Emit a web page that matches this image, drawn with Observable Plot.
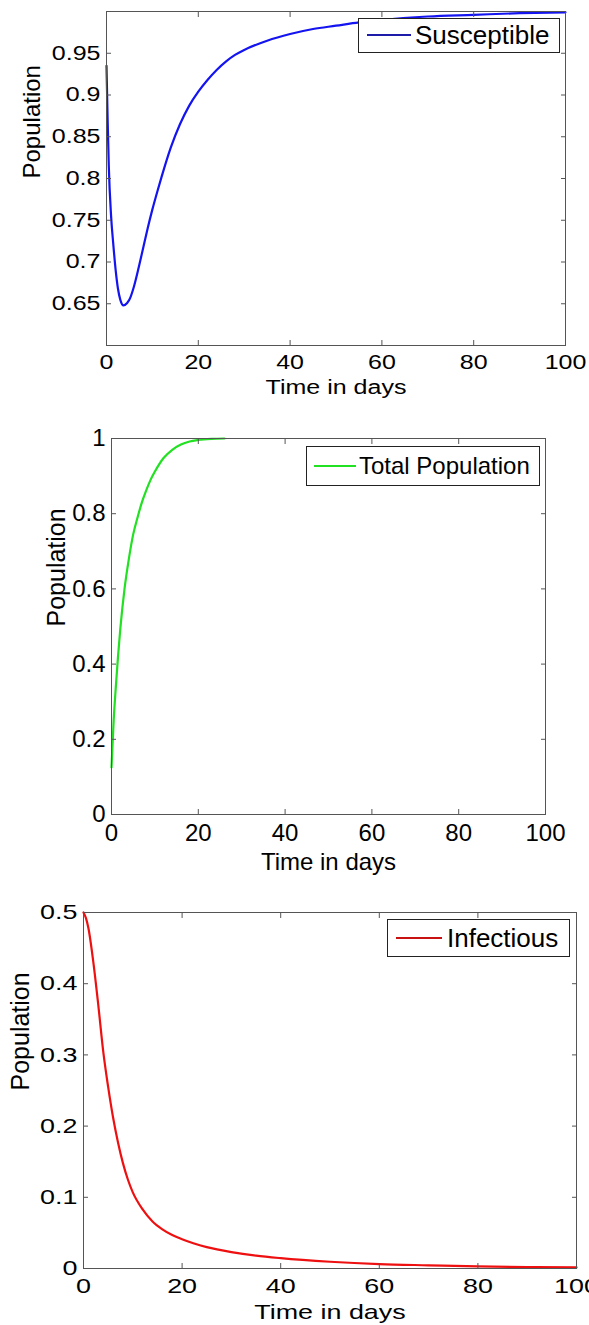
<!DOCTYPE html>
<html><head><meta charset="utf-8">
<script src="https://cdn.jsdelivr.net/npm/d3@7"></script>
<script src="https://cdn.jsdelivr.net/npm/@observablehq/plot@0.6"></script>
<style>
body{margin:0;background:#fff;}
#wrap{position:relative;width:589px;height:1325px;background:#fff;overflow:hidden;font-family:"Liberation Sans",Arial,sans-serif;}
.panel{position:absolute;left:0;}
.legend{position:absolute;border:1px solid #222;background:#fff;box-sizing:border-box;}
.sw{position:absolute;height:0;border-top:2px solid;}
.lt{position:absolute;white-space:nowrap;line-height:1;transform:translateY(-50%);color:#000;}
</style></head><body><div id="wrap"></div>
<script>
// ---- data ----
const xTicks = [0, 20, 40, 60, 80, 100];

const days1 = [0, 0.25, 0.5, 1, 1.5, 2, 2.5, 3, 3.7, 4.5, 5, 6, 7, 8, 9, 10, 11, 12, 14, 16, 18, 20, 22, 24, 26, 28, 30, 35, 40, 45, 50, 55, 60, 70, 80, 90, 100];
const susceptible = [0.935, 0.87, 0.815, 0.755, 0.72, 0.69, 0.668, 0.655, 0.648, 0.651, 0.655, 0.671, 0.693, 0.717, 0.741, 0.763, 0.783, 0.802, 0.837, 0.865, 0.887, 0.904, 0.918, 0.93, 0.94, 0.948, 0.954, 0.965, 0.973, 0.979, 0.983, 0.987, 0.99, 0.994, 0.996, 0.998, 0.999];
const yTicks1 = [0.65, 0.7, 0.75, 0.8, 0.85, 0.9, 0.95];

const days2 = [0, 0.5, 1, 1.5, 2, 3, 4, 5, 6, 7, 8, 9, 10, 12, 14, 16, 18, 20, 23, 26];
const totalPop = [0.125, 0.25, 0.34, 0.42, 0.49, 0.6, 0.68, 0.745, 0.79, 0.83, 0.862, 0.89, 0.912, 0.948, 0.97, 0.984, 0.992, 0.996, 0.999, 1.0];
const yTicks2 = [0, 0.2, 0.4, 0.6, 0.8, 1];

const days3 = [0, 0.5, 1, 2, 3, 4, 5, 6, 7, 8, 9, 10, 12, 14, 16, 18, 20, 25, 30, 35, 40, 50, 60, 70, 80, 90, 100];
const infectious = [0.5, 0.492, 0.478, 0.43, 0.37, 0.305, 0.255, 0.212, 0.177, 0.148, 0.125, 0.107, 0.083, 0.066, 0.055, 0.047, 0.041, 0.03, 0.023, 0.018, 0.0145, 0.0095, 0.0062, 0.0045, 0.003, 0.002, 0.0015];
const yTicks3 = [0, 0.1, 0.2, 0.3, 0.4, 0.5];

const toRows = (ts, vs) => ts.map((t, i) => ({t, v: vs[i]}));

const wrap = document.getElementById("wrap");
const frameColor = "#555";

function stretchText(svg, factor) {
  svg.querySelectorAll("text").forEach(t => {
    if (t.textContent === "Population") return;
    const L = t.getComputedTextLength();
    if (L > 0 && factor !== 1) {
      t.setAttribute("textLength", (L * factor).toFixed(1));
      t.setAttribute("lengthAdjust", "spacingAndGlyphs");
    }
  });
}

function panel(o) {
  const svg = Plot.plot({
    width: 589, height: o.height,
    marginLeft: o.ml, marginRight: o.mr, marginTop: o.mt, marginBottom: o.mb,
    style: {fontFamily: "'Liberation Sans', Arial, sans-serif", background: "transparent", color: "#000", overflow: "visible"},
    x: {domain: [0, 100]},
    y: {domain: o.yDomain},
    marks: [
      Plot.line(o.rows, {x: "t", y: "v", stroke: o.color, strokeWidth: 2.2, curve: "monotone-x"}),
      Plot.frame({stroke: frameColor}),
      Plot.axisX(xTicks, {anchor: "bottom", tickSize: -5, tickPadding: o.xPad, fontSize: o.fs, stroke: frameColor, fill: "#000", label: null, tickFormat: d => String(d)}),
      Plot.axisX(xTicks, {anchor: "top", tickSize: -5, stroke: frameColor, fill: "none", label: null}),
      Plot.axisY(o.yTicks, {anchor: "left", tickSize: -5, tickPadding: 11, fontSize: o.fs, stroke: frameColor, fill: "#000", label: null, tickFormat: d => String(d)}),
      Plot.axisY(o.yTicks, {anchor: "right", tickSize: -5, stroke: frameColor, fill: "none", label: null}),
      Plot.text(["Time in days"], {frameAnchor: "bottom", dy: o.xLabelDy, lineAnchor: "middle", fontSize: o.fs, fill: "#000"}),
      Plot.text(["Population"], {frameAnchor: "left", dx: o.yLabelDx, rotate: -90, lineAnchor: "middle", fontSize: o.yLabelFs, fill: "#000"})
    ]
  });
  svg.classList.add("panel");
  svg.style.top = o.top + "px";
  wrap.appendChild(svg);
  stretchText(svg, o.stretch);
}

function legend(o) {
  const box = document.createElement("div");
  box.className = "legend";
  Object.assign(box.style, {left: o.x + "px", top: o.y + "px", width: o.w + "px", height: o.h + "px"});
  wrap.appendChild(box);
  const sw = document.createElement("div");
  sw.className = "sw";
  Object.assign(sw.style, {left: o.sx + "px", width: o.sw + "px", top: (o.cy - 1) + "px", borderTopColor: o.color});
  wrap.appendChild(sw);
  const t = document.createElement("div");
  t.className = "lt";
  t.textContent = o.text;
  Object.assign(t.style, {left: o.tx + "px", top: o.cy + "px", fontSize: o.fs + "px"});
  wrap.appendChild(t);
}

panel({top: 0, height: 420, ml: 106, mr: 24, mt: 11, mb: 75,
  yDomain: [0.6, 1.0], yTicks: yTicks1, rows: toRows(days1, susceptible), color: "#1414f0",
  fs: 20, stretch: 1.25, xPad: 14, xLabelDy: 42, yLabelDx: -74.5, yLabelFs: 24});
panel({top: 420, height: 455, ml: 111, mr: 44, mt: 18, mb: 61,
  yDomain: [0, 1], yTicks: yTicks2, rows: toRows(days2, totalPop), color: "#22e022",
  fs: 24, stretch: 1.0, xPad: 14, xLabelDy: 48, yLabelDx: -55, yLabelFs: 25});
panel({top: 875, height: 450, ml: 83, mr: 13, mt: 37, mb: 57,
  yDomain: [0, 0.5], yTicks: yTicks3, rows: toRows(days3, infectious), color: "#ee1010",
  fs: 21, stretch: 1.28, xPad: 15, xLabelDy: 44, yLabelDx: -63, yLabelFs: 25});

legend({x: 358, y: 18, w: 202, h: 35, sx: 367, sw: 44, cy: 35, tx: 415, fs: 26, text: "Susceptible", color: "#1c1ca8"});
legend({x: 306, y: 446, w: 234, h: 40, sx: 314, sw: 42, cy: 466, tx: 359, fs: 24, text: "Total Population", color: "#22e022"});
legend({x: 387, y: 919, w: 183, h: 38, sx: 396, sw: 46, cy: 938, tx: 447, fs: 26, text: "Infectious", color: "#c81212"});
</script></body></html>
